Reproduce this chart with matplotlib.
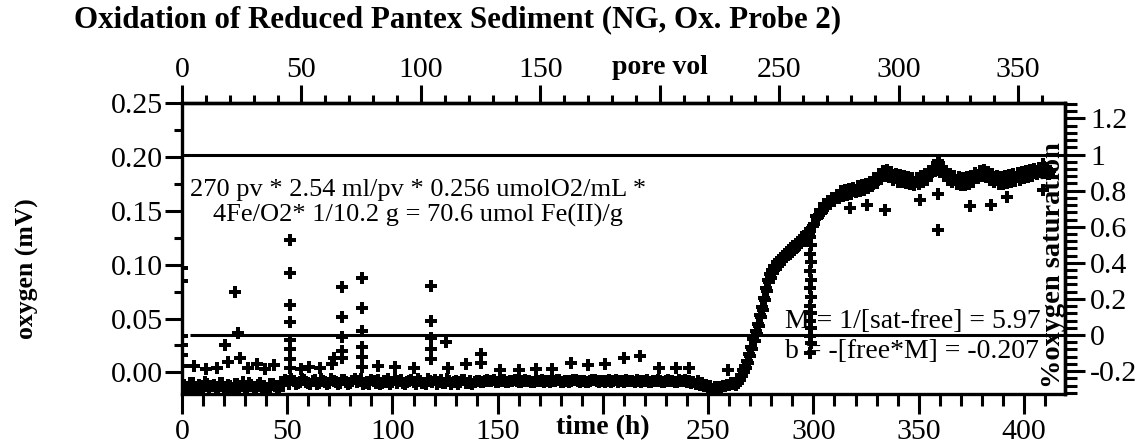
import numpy as np
import matplotlib
matplotlib.use("Agg")
import matplotlib.pyplot as plt
from matplotlib.ticker import MultipleLocator, FixedLocator, FuncFormatter

plt.rcParams['font.family'] = ['Liberation Serif', 'DejaVu Serif']
plt.rcParams['axes.unicode_minus'] = False

# ---- calibration constants (from the annotation) ----
M_SLOPE = 5.97
B_INT = -0.207
PV_PER_H = 0.881

# ---- baseline readings, odd hours from 1 h (oxygen, mV) ----
base_seg1 = [-0.012, -0.016, -0.010, -0.015, -0.013, -0.009, -0.016, -0.012, -0.014, -0.010,
             -0.016, -0.013, -0.011, -0.015, -0.009, -0.014, -0.012, -0.016, -0.010, -0.013,
             -0.015, -0.011, -0.014]
base_seg2 = [-0.009, -0.007, -0.011, -0.008, -0.010, -0.006, -0.009, -0.011, -0.007, -0.010,
             -0.008, -0.011, -0.006, -0.009, -0.010, -0.007, -0.011, -0.008, -0.009, -0.006,
             -0.010, -0.011, -0.008, -0.007, -0.010, -0.009, -0.011, -0.006, -0.008, -0.010,
             -0.009, -0.007, -0.011, -0.008, -0.010, -0.006, -0.009, -0.011, -0.007, -0.010,
             -0.008, -0.009, -0.011, -0.007, -0.010, -0.008, -0.009]
base_seg3 = [-0.008, -0.009, -0.007, -0.008, -0.009, -0.008, -0.007, -0.009, -0.008, -0.008,
             -0.009, -0.007, -0.008, -0.009, -0.008, -0.007, -0.008, -0.009, -0.008, -0.007,
             -0.009, -0.008, -0.008, -0.007, -0.009, -0.008, -0.009, -0.007, -0.008, -0.008,
             -0.009, -0.007, -0.008, -0.009, -0.008, -0.007, -0.008, -0.009, -0.008, -0.008,
             -0.007, -0.009, -0.008, -0.008, -0.009, -0.007, -0.008, -0.009, -0.008, -0.007,
             -0.008, -0.009, -0.008]
base_seg4 = [-0.010, -0.012, -0.013, -0.014, -0.014, -0.013, -0.012, -0.010]
base_v = base_seg1 + base_seg2 + base_seg3 + base_seg4

# ---- baseline readings, even hours from 2 h ----
base2_seg1 = [-0.014, -0.010, -0.017, -0.012, -0.015, -0.011, -0.013, -0.016, -0.010, -0.014,
              -0.012, -0.017, -0.011, -0.013, -0.016, -0.010, -0.015, -0.012, -0.014, -0.017,
              -0.011, -0.013, -0.016]
base2_seg2 = [-0.010, -0.008, -0.006, -0.011, -0.009, -0.007, -0.010, -0.008, -0.011, -0.006,
              -0.009, -0.010, -0.008, -0.011, -0.007, -0.009, -0.010, -0.006, -0.008, -0.011,
              -0.009, -0.007, -0.010, -0.011, -0.008, -0.006, -0.009, -0.010, -0.007, -0.011,
              -0.008, -0.009, -0.006, -0.010, -0.011, -0.008, -0.007, -0.009, -0.010, -0.006,
              -0.011, -0.008, -0.009, -0.007, -0.010, -0.011, -0.008]
base2_seg3 = [-0.009, -0.008, -0.008, -0.007, -0.009, -0.008, -0.009, -0.008, -0.007, -0.009,
              -0.008, -0.008, -0.009, -0.007, -0.008, -0.009, -0.008, -0.008, -0.007, -0.009,
              -0.008, -0.009, -0.007, -0.008, -0.008, -0.009, -0.008, -0.007, -0.009, -0.008,
              -0.008, -0.009, -0.007, -0.008, -0.009, -0.008, -0.008, -0.007, -0.009, -0.008,
              -0.009, -0.008, -0.007, -0.009, -0.008, -0.008, -0.009, -0.007, -0.008, -0.009,
              -0.010, -0.011, -0.012]
base2_seg4 = [-0.013, -0.014, -0.015, -0.015, -0.014, -0.013, -0.012, -0.011]
base2_v = base2_seg1 + base2_seg2 + base2_seg3 + base2_seg4

# ---- isolated points / spikes (time h, oxygen mV) ----
spike_t = [0, 0, 0, 0, 0, 0, 5.7, 11.2, 16.6, 20.4, 22, 25, 26.7, 27.5, 31.2, 35.7, 39.3, 43.9,
           51.5, 51.5, 51.5, 51.5, 51.5, 51.5, 51.5, 51.5, 56.5, 60.2, 65.7, 71.2, 72,
           76, 76, 76, 76, 76, 85.5, 85.5, 85.5, 85.5, 85.5, 85.5, 93, 101, 110,
           118.5, 118.5, 118.5, 118.5, 118.5, 125.5, 126.6, 134.8, 142, 142,
           151, 160, 168.4, 175.7, 184.8, 193, 201, 210, 217.5, 226.6, 234.8, 241, 259.4]
spike_v = [0.097, 0.085, 0.034, 0.025, 0.016, 0.006, 0.006, 0.003, 0.004, 0.025, 0.010, 0.075,
           0.037, 0.013, 0.004, 0.008, 0.003, 0.007,
           0.123, 0.092, 0.063, 0.047, 0.030, 0.022, 0.012, 0.004, 0.003, 0.005, 0.004, 0.008, 0.013,
           0.079, 0.051, 0.033, 0.020, 0.013, 0.088, 0.060, 0.038, 0.024, 0.014, 0.005, 0.006,
           0.005, 0.004,
           0.080, 0.048, 0.032, 0.022, 0.012, 0.028, 0.004, 0.008, 0.017, 0.009,
           0.002, 0.002, 0.003, 0.003, 0.009, 0.007, 0.008, 0.013, 0.015, 0.004, 0.004, 0.004, 0.002]

# ---- breakthrough rise, whole hours from 263 h (band centre) ----
rise_v = [-0.012, -0.010, -0.007, -0.003, 0.000, 0.004, 0.009, 0.015, 0.022, 0.029,
          0.036, 0.043, 0.051, 0.058, 0.067, 0.076, 0.084, 0.088, 0.092, 0.096,
          0.099, 0.101, 0.103, 0.105, 0.107, 0.109, 0.110, 0.112, 0.114, 0.116,
          0.118, 0.120, 0.122, 0.124, 0.126, 0.128]
# ---- breakthrough rise, half hours from 263.5 h (upper edge of band) ----
rise_hi_v = [-0.009, -0.006, -0.002, 0.002, 0.006, 0.011, 0.017, 0.024, 0.031, 0.038,
             0.045, 0.053, 0.061, 0.069, 0.078, 0.086, 0.091, 0.095, 0.099, 0.102,
             0.104, 0.106, 0.108, 0.110, 0.112, 0.113, 0.115, 0.117, 0.119, 0.121,
             0.123, 0.125, 0.127, 0.129, 0.130, 0.131]

# ---- drop column near 299 h ----
drop_t = [298.3, 299.0, 298.3, 299.0, 298.3, 299.0, 298.3, 299.0, 298.3, 299.0,
          298.3, 299.0, 298.3, 299.0, 298.6]
drop_v = [0.126, 0.118, 0.110, 0.102, 0.094, 0.086, 0.078, 0.070, 0.062, 0.055,
          0.048, 0.041, 0.034, 0.027, 0.018]

# ---- plateau, whole hours from 300 h ----
plateau_v = [0.136, 0.145, 0.144, 0.151, 0.149, 0.156, 0.153, 0.159, 0.157, 0.162,
             0.159, 0.165, 0.162, 0.168, 0.164, 0.169, 0.165, 0.170, 0.166, 0.171,
             0.167, 0.173, 0.168, 0.174, 0.169, 0.175, 0.171, 0.177, 0.173, 0.180,
             0.176, 0.184, 0.180, 0.187, 0.182, 0.188, 0.181, 0.186, 0.179, 0.184,
             0.177, 0.183, 0.177, 0.182, 0.176, 0.181, 0.175, 0.180, 0.174, 0.180,
             0.175, 0.182, 0.177, 0.184, 0.179, 0.187, 0.183, 0.191, 0.188, 0.196,
             0.189, 0.191, 0.182, 0.186, 0.179, 0.184, 0.177, 0.182, 0.175, 0.181,
             0.174, 0.180, 0.174, 0.181, 0.175, 0.182, 0.177, 0.185, 0.180, 0.187,
             0.182, 0.188, 0.181, 0.186, 0.179, 0.184, 0.177, 0.182, 0.175, 0.181,
             0.175, 0.182, 0.176, 0.183, 0.177, 0.184, 0.178, 0.185, 0.179, 0.186,
             0.180, 0.187, 0.181, 0.188, 0.182, 0.189, 0.184, 0.190, 0.186, 0.193,
             0.185, 0.189, 0.184]
# ---- plateau, half hours from 300.5 h (band centre) ----
plateau_mid_v = [0.138, 0.143, 0.146, 0.148, 0.151, 0.153, 0.155, 0.157, 0.159, 0.160,
                 0.162, 0.163, 0.164, 0.165, 0.166, 0.166, 0.167, 0.167, 0.168, 0.168,
                 0.169, 0.170, 0.170, 0.171, 0.171, 0.172, 0.173, 0.174, 0.175, 0.177,
                 0.179, 0.181, 0.183, 0.184, 0.185, 0.185, 0.184, 0.183, 0.182, 0.181,
                 0.180, 0.180, 0.180, 0.180, 0.179, 0.178, 0.178, 0.177, 0.177, 0.177,
                 0.178, 0.179, 0.180, 0.181, 0.182, 0.184, 0.186, 0.188, 0.191, 0.194,
                 0.191, 0.188, 0.185, 0.183, 0.182, 0.181, 0.180, 0.179, 0.178, 0.178,
                 0.177, 0.177, 0.177, 0.178, 0.178, 0.179, 0.180, 0.182, 0.183, 0.184,
                 0.185, 0.185, 0.184, 0.183, 0.182, 0.181, 0.180, 0.179, 0.178, 0.178,
                 0.178, 0.179, 0.179, 0.180, 0.180, 0.181, 0.181, 0.182, 0.182, 0.183,
                 0.183, 0.184, 0.184, 0.185, 0.185, 0.186, 0.187, 0.187, 0.189, 0.191,
                 0.188, 0.186, 0.187]

# ---- plateau outliers ----
pout_t = [317.3, 325.3, 334.0, 350.6, 359.3, 359.3, 374.3, 384.6, 391.8, 409.0]
pout_v = [0.153, 0.155, 0.151, 0.160, 0.166, 0.132, 0.154, 0.155, 0.163, 0.169]

# tick values
bottom_ticks = [0, 50, 100, 150, 200, 250, 300, 350, 400]
top_ticks = [0, 50, 100, 150, 200, 250, 300, 350]
right_ticks = [-0.2, 0, 0.2, 0.4, 0.6, 0.8, 1.0, 1.2]

base_t = np.arange(1, 1 + 2 * len(base_v), 2)
base2_t = np.arange(2, 2 + 2 * len(base2_v), 2)
rise_t = np.arange(263, 263 + len(rise_v))
rise_hi_t = np.arange(263.5, 263.5 + len(rise_hi_v))
plateau_t = np.arange(300, 300 + len(plateau_v))
plateau_mid_t = np.arange(300.5, 300.5 + len(plateau_mid_v))

FREE = -B_INT / M_SLOPE
SAT = FREE + 1.0 / M_SLOPE

fig = plt.figure(figsize=(11.44, 4.43), dpi=100)
ax = fig.add_axes([0.1591, 0.1095, 0.7718, 0.658])
XMAX = 419.5
ax.set_xlim(0, XMAX)
ax.set_ylim(-0.0205, 0.25)

mk = dict(marker='P', ms=8.6, color='black', linestyle='none', mew=0, zorder=3)
ax.plot(base_t, base_v, **mk)
ax.plot(base2_t, base2_v, **mk)
ax.plot(spike_t, spike_v, **mk)
ax.plot(rise_t, rise_v, **mk)
ax.plot(rise_hi_t, rise_hi_v, **mk)
ax.plot(drop_t, drop_v, **mk)
ax.plot(plateau_t, plateau_v, **mk)
ax.plot(plateau_mid_t, plateau_mid_v, **mk)
ax.plot(pout_t, pout_v, **mk)

ax.hlines(SAT, 0, XMAX, color='black', lw=2.2, zorder=2)
ax.hlines(FREE, 4, XMAX, color='black', lw=2.2, zorder=2)

for s in ax.spines.values():
    s.set_linewidth(2.4)

TICKFS = 21.5
fmt_h = FuncFormatter(lambda x, p: '' if abs(x - 200) < 1e-6 else f'{x:.0f}')
# bottom
ax.xaxis.set_major_locator(FixedLocator(bottom_ticks))
ax.xaxis.set_minor_locator(FixedLocator(list(range(0, 420, 10))))
ax.xaxis.set_major_formatter(fmt_h)
ax.tick_params(axis='x', which='major', direction='out', length=14.4, width=2.2, pad=3.0,
               labelsize=TICKFS, top=False)
ax.tick_params(axis='x', which='minor', direction='out', length=8.6, width=2.2, top=False)
# left
ax.yaxis.set_major_locator(MultipleLocator(0.05))
ax.yaxis.set_minor_locator(MultipleLocator(0.025))
ax.yaxis.set_major_formatter(FuncFormatter(lambda y, p: f'{y:.2f}'))
ax.tick_params(axis='y', which='major', direction='out', length=12, width=2.2, pad=2,
               labelsize=TICKFS, right=False)
ax.tick_params(axis='y', which='minor', direction='out', length=5.8, width=2.2, right=False)

# top: pore volumes
top = ax.secondary_xaxis('top', functions=(lambda t: t * PV_PER_H, lambda p: p / PV_PER_H))
top.xaxis.set_major_locator(FixedLocator(top_ticks))
top.xaxis.set_minor_locator(FixedLocator(list(range(0, 370, 10))))
top.xaxis.set_major_formatter(fmt_h)
top.tick_params(axis='x', which='major', direction='out', length=13, width=2.2, pad=1.5,
                labelsize=TICKFS)
top.tick_params(axis='x', which='minor', direction='out', length=5.8, width=2.2)
top.spines['top'].set_linewidth(2.4)

# right: % oxygen saturation
right = ax.secondary_yaxis('right', functions=(lambda v: M_SLOPE * v + B_INT,
                                               lambda s: (s - B_INT) / M_SLOPE))
right.yaxis.set_major_locator(FixedLocator(right_ticks))
right.yaxis.set_minor_locator(FixedLocator([round(-0.32 + 0.04 * i, 2) for i in range(41)]))
right.yaxis.set_major_formatter(FuncFormatter(lambda y, p: f'{round(y, 1):g}'))
right.tick_params(axis='y', which='major', direction='out', length=14.4, width=2.2, pad=3.6,
                  labelsize=TICKFS)
right.tick_params(axis='y', which='minor', direction='out', length=8.6, width=2.2)
right.spines['right'].set_linewidth(2.4)

# axis titles placed as in the original
fig.text(603 / 1144, 1 - 428 / 443, 'time (h)', fontsize=20, fontweight='bold',
         ha='center', va='center')
fig.text(660 / 1144, 1 - 67 / 443, 'pore vol', fontsize=20, fontweight='bold',
         ha='center', va='center')
fig.text(27 / 1144, 1 - 269 / 443, 'oxygen (mV)', fontsize=18.5, fontweight='bold',
         rotation=90, ha='center', va='center')
fig.text(1053 / 1144, 1 - 265 / 443, '%oxygen saturation', fontsize=20.5, fontweight='bold',
         rotation=90, ha='center', va='center', zorder=5)

fig.text(458 / 1144, 1 - 20 / 443, 'Oxidation of Reduced Pantex Sediment (NG, Ox. Probe 2)',
         fontsize=22.3, fontweight='bold', ha='center', va='center')

fig.text(418 / 1144, 1 - 203 / 443,
         '270 pv * 2.54 ml/pv * 0.256 umolO2/mL *\n4Fe/O2* 1/10.2 g = 70.6 umol Fe(II)/g',
         fontsize=19, ha='center', va='center', linespacing=1.15)
fig.text(785 / 1144, 1 - 322 / 443, 'M = 1/[sat-free] = 5.97', fontsize=20,
         ha='left', va='center')
fig.text(785 / 1144, 1 - 352 / 443, 'b = -[free*M] = -0.207', fontsize=20,
         ha='left', va='center')

fig.savefig('out.png', dpi=100)
